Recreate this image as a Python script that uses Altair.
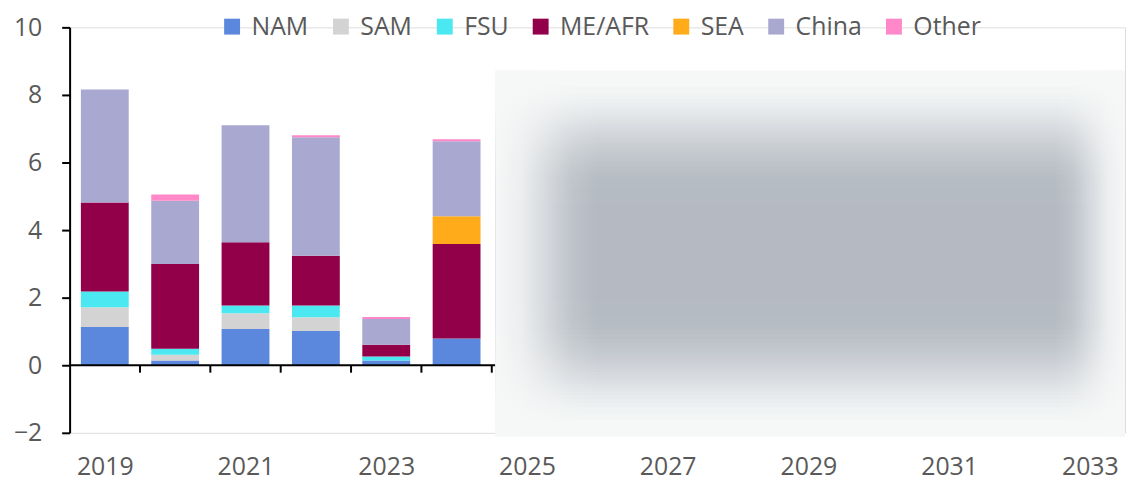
import math
import altair as alt
import pandas as pd

# ---------------- data ----------------
years = [2019, 2020, 2021, 2022, 2023, 2024]
series = ["NAM", "SAM", "FSU", "ME/AFR", "SEA", "China", "Other"]
colors = ["#5b87dc", "#d3d3d3", "#4be8f2", "#93004a", "#ffab1a", "#a8a8d0", "#ff88c8"]

nam = [1.13, 0.14, 1.07, 1.01, 0.14, 0.79]
sam = [0.59, 0.17, 0.47, 0.41, 0.00, 0.00]
fsu = [0.46, 0.18, 0.23, 0.35, 0.12, 0.00]
me_afr = [2.64, 2.51, 1.87, 1.47, 0.35, 2.80]
sea = [0.00, 0.00, 0.00, 0.00, 0.00, 0.82]
china = [3.34, 1.87, 3.46, 3.51, 0.76, 2.22]
other = [0.00, 0.18, 0.00, 0.06, 0.06, 0.06]

x_labels = [2019, 2021, 2023, 2025, 2027, 2029, 2031, 2033]
y_ticks = [-2, 0, 2, 4, 6, 8, 10]
x_domain = [2018.5, 2033.5]
y_domain = [-2, 10]
boundaries = [2019.5, 2020.5, 2021.5, 2022.5, 2023.5, 2024.5]

# forecast period, hidden behind a blur
hidden_x = [2024.55, 2033.5]
hidden_y = [-2.11, 8.72]
core_y = [1.9, 4.8]
fade_left = 1.45
fade_right = 1.0

values = [nam, sam, fsu, me_afr, sea, china, other]

# ---------------- tables ----------------
HALF = 0.34
rows = []
for i, y in enumerate(years):
    base = 0.0
    for s_i, s in enumerate(series):
        v = values[s_i][i]
        if v > 0:
            rows.append({"year": y, "x0": y - HALF, "x1": y + HALF, "series": s,
                         "order": s_i, "start": base, "end": base + v})
            base += v
bars_df = pd.DataFrame(rows)

font = "Open Sans"
text_col = "#595959"
fs = 25

xscale = alt.Scale(domain=x_domain, nice=False, zero=False)
yscale = alt.Scale(domain=y_domain, nice=False, zero=False)

bars = alt.Chart(bars_df).mark_rect().encode(
    x=alt.X("x0:Q", scale=xscale,
            axis=alt.Axis(values=x_labels, format="d", title=None, domain=False,
                          ticks=False, grid=False, labelFontSize=fs, labelFont=font,
                          labelColor=text_col, labelPadding=22, labelFlush=False)),
    x2="x1:Q",
    y=alt.Y("start:Q", scale=yscale,
            axis=alt.Axis(values=y_ticks, title=None, grid=False, domainColor="black",
                          domainWidth=2, tickColor="black", tickWidth=2, tickSize=8,
                          labelFontSize=fs, labelFont=font, labelColor=text_col,
                          labelPadding=20)),
    y2="end:Q",
    color=alt.Color("series:N", scale=alt.Scale(domain=series, range=colors),
                    legend=alt.Legend(orient="none", legendX=151, legendY=-13.5,
                                      direction="horizontal", title=None, padding=0,
                                      labelFontSize=fs, labelFont=font,
                                      labelColor=text_col, symbolType="square",
                                      symbolSize=256, symbolStrokeWidth=0,
                                      labelOffset=7, columnPadding=19.5)),
    order="order:Q",
)

zero_df = pd.DataFrame({"x0": [x_domain[0]], "x1": [x_domain[1]], "y": [0]})
zero_line = alt.Chart(zero_df).mark_rule(color="black", strokeWidth=2).encode(
    x=alt.X("x0:Q", scale=xscale), x2="x1:Q", y=alt.Y("y:Q", scale=yscale))

ticks_df = pd.DataFrame({"x": boundaries, "y0": [0] * len(boundaries),
                         "y1": [-0.22] * len(boundaries)})
ticks = alt.Chart(ticks_df).mark_rule(color="black", strokeWidth=2).encode(
    x=alt.X("x:Q", scale=xscale), y=alt.Y("y0:Q", scale=yscale), y2="y1:Q")

# ---- blurred forecast area (decoration) ----
BASE_RGB = (246, 247, 247)
GRAY = "#b4b9c2"

base_df = pd.DataFrame({"x0": [hidden_x[0]], "x1": [hidden_x[1]],
                        "y0": [hidden_y[0]], "y1": [hidden_y[1]]})
blur_base = alt.Chart(base_df).mark_rect(color="#f6f7f7").encode(
    x=alt.X("x0:Q", scale=xscale), x2="x1:Q",
    y=alt.Y("y0:Q", scale=yscale), y2="y1:Q")

# nested rectangles whose composite opacity follows a smooth vertical profile
N = 28
nest = []
prev = 0.0
for k in range(1, N + 1):
    T = k / N
    t = (2 / math.pi) * math.asin(math.sqrt(T))
    top = hidden_y[1] - t * (hidden_y[1] - core_y[1])
    bot = hidden_y[0] + t * (core_y[0] - hidden_y[0])
    a = 1 - (1 - T) / (1 - prev)
    prev = T
    nest.append({"x0": hidden_x[0], "x1": hidden_x[1], "y0": bot, "y1": top, "op": a})
nest_df = pd.DataFrame(nest)
blur_core = alt.Chart(nest_df).mark_rect(color=GRAY, strokeWidth=0).encode(
    x=alt.X("x0:Q", scale=xscale), x2="x1:Q",
    y=alt.Y("y0:Q", scale=yscale), y2="y1:Q",
    opacity=alt.Opacity("op:Q", scale=None, legend=None))


def fade(direction):
    prof = [(0, 1), (0.25, 0.844), (0.5, 0.5), (0.75, 0.156), (1, 0)]
    if direction == "right":
        prof = [(o, 1 - a) for o, a in prof]
    st = [alt.GradientStop(color="rgba(%d,%d,%d,%.3f)" % (BASE_RGB + (a,)), offset=o)
          for o, a in prof]
    return alt.LinearGradient(gradient="linear", stops=st, x1=0, x2=1, y1=0, y2=0)


mask_left_df = pd.DataFrame({"x0": [hidden_x[0]], "x1": [hidden_x[0] + fade_left],
                             "y0": [hidden_y[0]], "y1": [hidden_y[1]]})
mask_right_df = pd.DataFrame({"x0": [hidden_x[1] - fade_right], "x1": [hidden_x[1]],
                              "y0": [hidden_y[0]], "y1": [hidden_y[1]]})
mask_left = alt.Chart(mask_left_df).mark_rect(fill=fade("left"), strokeWidth=0).encode(
    x=alt.X("x0:Q", scale=xscale), x2="x1:Q",
    y=alt.Y("y0:Q", scale=yscale), y2="y1:Q")
mask_right = alt.Chart(mask_right_df).mark_rect(fill=fade("right"), strokeWidth=0).encode(
    x=alt.X("x0:Q", scale=xscale), x2="x1:Q",
    y=alt.Y("y0:Q", scale=yscale), y2="y1:Q")

chart = alt.layer(bars, zero_line, ticks, blur_base, blur_core, mask_left,
                  mask_right).properties(
    width=1062, height=408,
    padding={"left": 5, "top": 4, "right": 0, "bottom": 0},
).configure_view(strokeWidth=0, stroke="transparent").configure(
    font=font).configure_legend(symbolType="square")

chart.save("out.html", embed_options={"renderer": "svg", "actions": False})
